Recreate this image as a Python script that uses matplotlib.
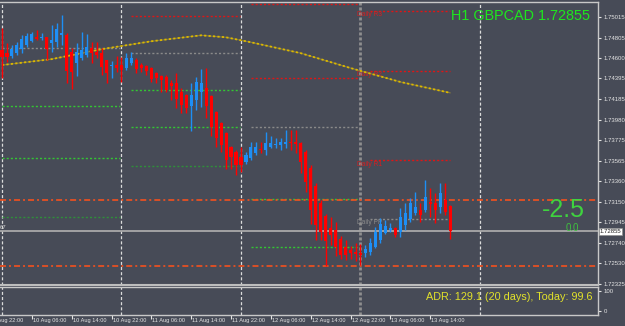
import numpy as np
import matplotlib.pyplot as plt
import matplotlib.transforms as mtransforms

plt.rcParams['lines.scale_dashes'] = False

# H1 GBPCAD candles, 10 Aug 00:00 .. 13 Aug 18:00
opens = [1.7468, 1.7465, 1.7462, 1.7465, 1.7469, 1.7473, 1.7477, 1.7481, 1.7480, 1.7481,
         1.7475, 1.7476, 1.7483, 1.7483, 1.7466, 1.7455, 1.7460, 1.7463, 1.7470, 1.7466,
         1.7465, 1.7458, 1.7452, 1.7453, 1.7453, 1.7450, 1.7455, 1.7458, 1.7453, 1.7452,
         1.7450, 1.7445, 1.7442, 1.7441, 1.7435, 1.7435, 1.7426, 1.7423, 1.7412, 1.7418,
         1.7426, 1.7430, 1.7422, 1.7406, 1.7395, 1.7385, 1.7370, 1.7365, 1.7360, 1.7355,
         1.7359, 1.7364, 1.7368, 1.7367, 1.7370, 1.7372, 1.7372, 1.7373, 1.7375, 1.7375,
         1.7374, 1.7365, 1.7349, 1.7331, 1.7314, 1.7301, 1.7289, 1.7287, 1.7278, 1.7270,
         1.7267, 1.7265, 1.7264, 1.7264, 1.7265, 1.7270, 1.7277, 1.7284, 1.7287, 1.7289,
         1.7285, 1.7292, 1.7298, 1.7304, 1.7307, 1.7307, 1.7315, 1.7314, 1.7310, 1.7317,
         1.7311]
highs = [1.7490, 1.7475, 1.7473, 1.7476, 1.7483, 1.7485, 1.7486, 1.7488, 1.7485, 1.7481,
         1.7493, 1.7495, 1.7503, 1.7485, 1.7470, 1.7475, 1.7486, 1.7484, 1.7476, 1.7476,
         1.7470, 1.7458, 1.7457, 1.7462, 1.7461, 1.7465, 1.7466, 1.7460, 1.7455, 1.7453,
         1.7451, 1.7446, 1.7443, 1.7443, 1.7438, 1.7445, 1.7430, 1.7424, 1.7435, 1.7441,
         1.7449, 1.7450, 1.7423, 1.7407, 1.7396, 1.7386, 1.7371, 1.7367, 1.7370, 1.7365,
         1.7375, 1.7375, 1.7375, 1.7386, 1.7381, 1.7379, 1.7379, 1.7388, 1.7388, 1.7388,
         1.7375, 1.7367, 1.7352, 1.7334, 1.7317, 1.7303, 1.7300, 1.7295, 1.7281, 1.7277,
         1.7271, 1.7274, 1.7273, 1.7272, 1.7279, 1.7290, 1.7299, 1.7297, 1.7294, 1.7290,
         1.7309, 1.7314, 1.7319, 1.7325, 1.7314, 1.7337, 1.7329, 1.7324, 1.7334, 1.7334,
         1.7312]
lows = [1.7440, 1.7456, 1.7460, 1.7463, 1.7465, 1.7471, 1.7476, 1.7478, 1.7478, 1.7458,
        1.7466, 1.7471, 1.7473, 1.7435, 1.7429, 1.7442, 1.7458, 1.7461, 1.7455, 1.7460,
        1.7443, 1.7435, 1.7440, 1.7446, 1.7436, 1.7448, 1.7453, 1.7445, 1.7446, 1.7443,
        1.7436, 1.7435, 1.7426, 1.7426, 1.7418, 1.7410, 1.7405, 1.7405, 1.7387, 1.7408,
        1.7411, 1.7400, 1.7381, 1.7370, 1.7365, 1.7348, 1.7348, 1.7342, 1.7345, 1.7353,
        1.7357, 1.7362, 1.7364, 1.7362, 1.7369, 1.7369, 1.7367, 1.7369, 1.7367, 1.7364,
        1.7344, 1.7325, 1.7293, 1.7277, 1.7277, 1.7250, 1.7272, 1.7261, 1.7258, 1.7256,
        1.7257, 1.7255, 1.7251, 1.7260, 1.7262, 1.7269, 1.7274, 1.7283, 1.7285, 1.7280,
        1.7280, 1.7287, 1.7295, 1.7302, 1.7295, 1.7305, 1.7300, 1.7294, 1.7304, 1.7302,
        1.7278]
closes = [1.7461, 1.7461, 1.7469, 1.7473, 1.7479, 1.7482, 1.7484, 1.7479, 1.7481, 1.7469,
          1.7478, 1.7489, 1.7485, 1.7447, 1.7446, 1.7466, 1.7468, 1.7471, 1.7465, 1.7463,
          1.7451, 1.7445, 1.7453, 1.7450, 1.7448, 1.7460, 1.7460, 1.7449, 1.7450, 1.7447,
          1.7439, 1.7440, 1.7438, 1.7428, 1.7432, 1.7419, 1.7413, 1.7410, 1.7423, 1.7436,
          1.7435, 1.7412, 1.7391, 1.7379, 1.7372, 1.7357, 1.7360, 1.7352, 1.7352, 1.7362,
          1.7370, 1.7370, 1.7367, 1.7374, 1.7374, 1.7373, 1.7375, 1.7375, 1.7374, 1.7373,
          1.7355, 1.7335, 1.7307, 1.7292, 1.7285, 1.7276, 1.7282, 1.7270, 1.7262, 1.7262,
          1.7264, 1.7263, 1.7262, 1.7268, 1.7274, 1.7285, 1.7293, 1.7291, 1.7289, 1.7282,
          1.7300, 1.7304, 1.7314, 1.7310, 1.7302, 1.7320, 1.7313, 1.7307, 1.7324, 1.7305,
          1.72855]

# moving average read at some bars
ma_bars = [0, 10, 20, 30, 40, 45, 50, 60, 70, 80, 90]
ma_vals = [1.7453, 1.7459, 1.7469, 1.7477, 1.7483, 1.7481, 1.7476, 1.7465, 1.7450, 1.7436, 1.7425]

# daily pivots for 10, 11, 12, 13 Aug (None = off chart)
piv_pp = [1.7470, 1.7465, 1.7391, 1.7298]
piv_r1 = [None, 1.7502, 1.7440, 1.7357]
piv_r2 = [None, None, 1.7515, 1.7447]
piv_r3 = [None, None, None, 1.7508]
piv_s1 = [1.7412, 1.7428, 1.7318, None]
piv_s2 = [1.7359, 1.7391, 1.7270, None]
piv_s3 = [1.7300, 1.7351, None, None]

adr_high = 1.7317
adr_low = 1.7250
bid = 1.72855

price_ticks = [1.75015, 1.74805, 1.74600, 1.74395, 1.74185, 1.73980, 1.73775,
               1.73565, 1.73360, 1.73150, 1.72945, 1.72740, 1.72530, 1.72325]
time_bars = [-2, 6, 14, 22, 30, 38, 46, 54, 62, 70, 78, 86]
time_labels = ['9 Aug 22:00', '10 Aug 06:00', '10 Aug 14:00', '10 Aug 22:00',
               '11 Aug 06:00', '11 Aug 14:00', '11 Aug 22:00', '12 Aug 06:00',
               '12 Aug 14:00', '12 Aug 22:00', '13 Aug 06:00', '13 Aug 14:00']
day_bars = [0, 24, 48, 72, 96]

bg = '#474b57'
frame = '#c8c8c8'
sans = ['Liberation Sans', 'DejaVu Sans']
small = 4.3

fig = plt.figure(figsize=(6.25, 3.26), dpi=100, facecolor=bg)
ax = fig.add_axes([0, 0.1258, 0.9568, 0.8681], facecolor=bg)
ax2 = fig.add_axes([0, 0.0337, 0.9568, 0.0859], facecolor=bg)
xlim = (-0.4, 119.7)

# day separators
for d in day_bars:
    for a in (ax, ax2):
        if d == 72:
            a.axvline(d, color='#8e8e8e', lw=2, ls=(0, (2.2, 1.4)), zorder=1)
        else:
            a.axvline(d, color='#dcdcdc', lw=0.9, ls=(0, (2.2, 1.5)), zorder=1)

# pivot segments
levels = [(piv_r3, '#e01515'), (piv_r2, '#e01515'), (piv_r1, '#e01515'),
          (piv_pp, '#8a8a8a'), (piv_s1, '#33c633'), (piv_s2, '#33c633'),
          (piv_s3, '#2f8f3a')]
for vals, c in levels:
    for d, v in enumerate(vals):
        if v is None:
            continue
        x0 = day_bars[d] + 2 if d else 0
        x1 = min(day_bars[d] + 23.8, len(opens) - 1)
        ax.hlines(v, x0, x1, color=c, lw=1, ls=(0, (1.5, 1.5)), zorder=2)

for name, v, c in [('Daily R3', piv_r3[3], '#d42020'), ('Daily R2', piv_r2[3], '#d42020'),
                   ('Daily R1', piv_r1[3], '#d42020'), ('Daily PP', piv_pp[3], '#8a8a8a')]:
    ax.text(71.3, v - 0.0004, name, color=c, fontsize=4.8, family=sans,
            ha='left', va='center', zorder=3)

# ADR and bid lines
for v in (adr_high, adr_low):
    ax.axhline(v, color='#f4511e', lw=1.2, ls=(0, (4.3, 2.2, 1.4, 2.2)), zorder=2)
ax.axhline(bid, color='#a9a9a9', lw=1.3, zorder=2)

# moving average
ax.plot(ma_bars, ma_vals, color='#857a3c', lw=0.8, zorder=3)
ax.plot(ma_bars, ma_vals, color='#dcb800', lw=1.3, ls=(0, (1.6, 1.6)), zorder=3)

# candles
o, h, l, c = (np.array(v) for v in (opens, highs, lows, closes))
idx = np.arange(len(o))
col = np.where(c >= o, '#1e8ff5', '#ff0000')
ax.vlines(idx, l, h, colors=col, lw=1, zorder=4)
body = np.maximum(np.abs(c - o), 0.00008)
ax.bar(idx, body, bottom=np.minimum(o, c), width=0.62, color=col, linewidth=0, zorder=5)

ax.set_xlim(*xlim)
ax.set_ylim(1.72313, 1.75166)
ax.set_xticks([])
ax.yaxis.tick_right()
ax.set_yticks(price_ticks)
ax.set_yticklabels([f'{v:.5f}' for v in price_ticks], family=sans)
ax.tick_params(axis='y', colors='#e4e4e4', labelsize=small, length=2.5, width=0.8, pad=1.5)
for s in ('left', 'bottom'):
    ax.spines[s].set_visible(False)
for s in ('top', 'right'):
    ax.spines[s].set_color(frame)
    ax.spines[s].set_linewidth(1)
ax.axhline(1.72313, color='#bdbdbd', lw=1.5, zorder=6, clip_on=False)

ax.annotate(f'{bid:.5f}', xy=(1, bid), xycoords=('axes fraction', 'data'),
            xytext=(1.2, 0), textcoords='offset points', ha='left', va='center',
            fontsize=small, family=sans, color='#202020', annotation_clip=False,
            bbox=dict(boxstyle='square,pad=0.15', fc='white', ec='#909090', lw=0.5))

ax.text(0.9866, 0.9505, 'H1 GBPCAD 1.72855', transform=ax.transAxes, color='#1ee61e',
        fontsize=10.4, family=sans, ha='right', va='center')
ax.text(0.978, 0.265, '-2.5', transform=ax.transAxes, color='#3fd23f',
        fontsize=18, family=sans, ha='right', va='center')
ax.text(0.968, 0.2014, '0.0', transform=ax.transAxes, color='#3fc03f',
        fontsize=7, family=sans, ha='right', va='center')
ax.text(0.0, 0.2014, '67', transform=ax.transAxes, color='#d0d0d0',
        fontsize=small, family=sans, ha='left', va='center')

# sub window (ADR)
ax2.set_xlim(*xlim)
ax2.set_ylim(-20, 120)
ax2.yaxis.tick_right()
ax2.set_yticks([0, 100])
ax2.set_yticklabels(['0', '100'], family=sans)
ax2.tick_params(axis='y', colors='#e4e4e4', labelsize=small, length=2.5, width=0.8, pad=1.5)
ax2.set_xticks([t for t in time_bars if t >= xlim[0]])
ax2.set_xticklabels([])
ax2.tick_params(axis='x', colors='#e4e4e4', length=3, width=0.8, direction='out')
ax2.spines['left'].set_visible(False)
for s in ('top', 'right', 'bottom'):
    ax2.spines[s].set_color(frame)
    ax2.spines[s].set_linewidth(1)
trans = mtransforms.blended_transform_factory(ax2.transData, ax2.transAxes)
for t, lab in zip(time_bars, time_labels):
    ax2.text(t + 0.2, -0.1, lab, transform=trans, color='#e4e4e4', fontsize=4.1,
             family=sans, ha='left', va='top', clip_on=False)
ax2.text(0.9916, 0.64, 'ADR: 129.1 (20 days), Today: 99.6', transform=ax2.transAxes,
         color='#e2e22a', fontsize=7.8, family=sans, ha='right', va='center')

fig.savefig('out.png', dpi=100, facecolor=bg)
